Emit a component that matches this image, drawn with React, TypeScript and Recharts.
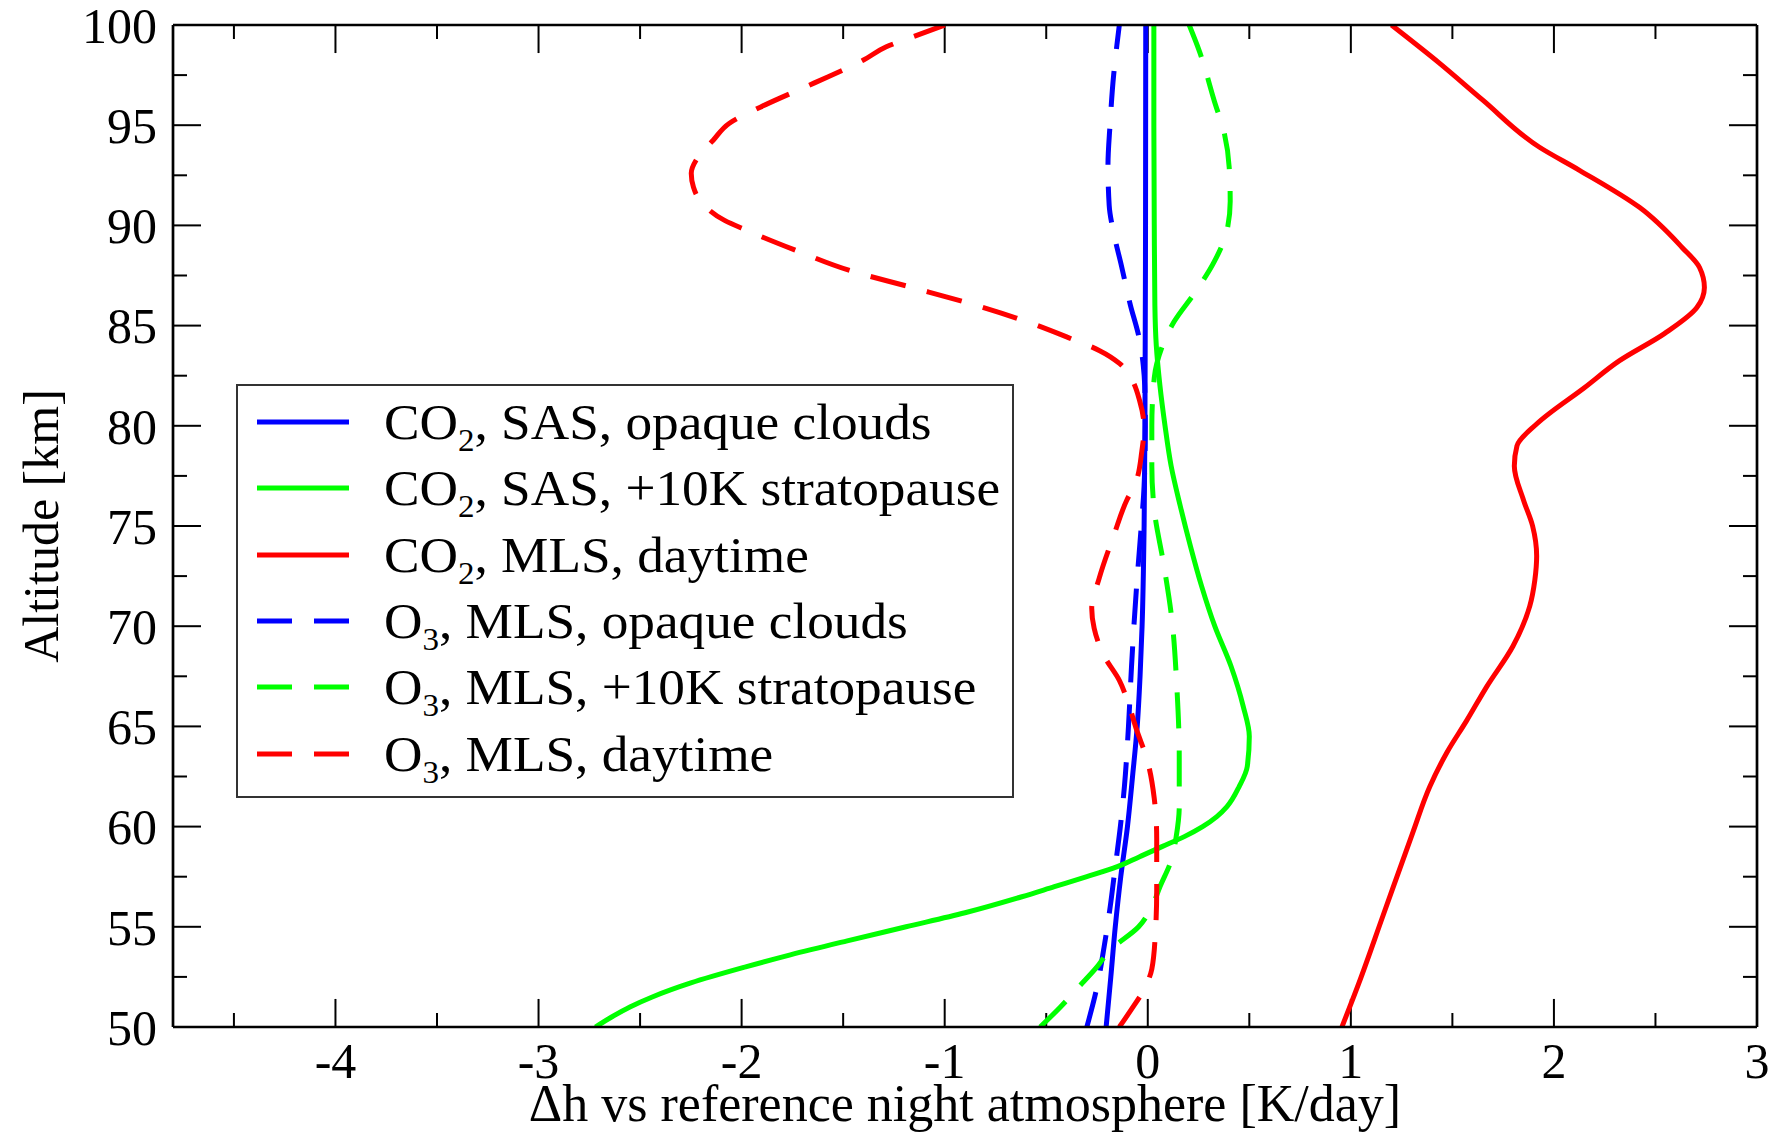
import { Legend, Line, LineChart, ReferenceLine, XAxis, YAxis } from "recharts";

const SERIF = '"Liberation Serif", "Times New Roman", serif';

// axis ticks
const xMajorTicks = [-4, -3, -2, -1, 0, 1, 2, 3];
const xMinorTicks = [-4.5, -3.5, -2.5, -1.5, -0.5, 0.5, 1.5, 2.5];
const altMajorTicks = [50, 55, 60, 65, 70, 75, 80, 85, 90, 95, 100];
const altMinorTicks = [52.5, 57.5, 62.5, 67.5, 72.5, 77.5, 82.5, 87.5, 92.5, 97.5];

// profiles: [altitude km, heating rate difference K/day]
const co2SasOpaque: [number, number][] = [
  [50, -0.205], [52.5, -0.182], [55, -0.16], [57.5, -0.133], [60, -0.1],
  [62.5, -0.075], [65, -0.052], [67.5, -0.038], [70, -0.028], [75, -0.018],
  [80, -0.014], [90, -0.011], [100, -0.01],
];

const co2SasStrat: [number, number][] = [
  [50, -2.72], [50.5, -2.64], [51, -2.55], [51.5, -2.44], [52.2, -2.25],
  [53, -1.98], [53.6, -1.76], [54.3, -1.48], [55, -1.19], [55.7, -0.9],
  [56.5, -0.62], [57, -0.46], [57.5, -0.3], [58, -0.15], [58.5, -0.04],
  [59, 0.07], [59.5, 0.18], [60, 0.27], [60.5, 0.34], [61, 0.39],
  [62, 0.45], [63, 0.49], [64.5, 0.5], [66, 0.47], [68, 0.41],
  [70, 0.33], [72, 0.265], [74, 0.21], [76, 0.16], [78, 0.115],
  [80, 0.085], [82, 0.06], [84, 0.042], [86, 0.035], [90, 0.032],
  [95, 0.03], [100, 0.03],
];

const co2MlsDay: [number, number][] = [
  [50, 0.956], [52.2, 1.04], [55.6, 1.16], [59.7, 1.305], [62, 1.389],
  [63.7, 1.473], [65.3, 1.571], [67, 1.67], [69, 1.798], [71, 1.881],
  [72.3, 1.906], [73.5, 1.915], [75, 1.895], [76.3, 1.85], [78, 1.805],
  [79, 1.818], [80.1, 1.916], [81.9, 2.15], [83.25, 2.323], [84.6, 2.544],
  [85.9, 2.704], [86.9, 2.741], [87.9, 2.717], [88.9, 2.631], [90.9, 2.421],
  [92.75, 2.126], [93.9, 1.929], [96.25, 1.65], [98.1, 1.436], [100, 1.2],
];

const o3MlsOpaque: [number, number][] = [
  [50, -0.3], [52, -0.25], [54, -0.215], [56, -0.185], [58, -0.16],
  [60, -0.135], [62, -0.115], [65, -0.095], [68, -0.08], [72, -0.055],
  [75, -0.032], [77, -0.018], [80, -0.012], [82, -0.015], [83, -0.022],
  [84.5, -0.045], [86, -0.085], [88, -0.13], [89.5, -0.165], [91, -0.19],
  [93, -0.196], [95, -0.186], [97.5, -0.168], [99, -0.152], [100, -0.14],
];

const o3MlsStrat: [number, number][] = [
  [50, -0.53], [51, -0.43], [52, -0.34], [53, -0.25], [53.8, -0.19],
  [55, -0.045], [56, 0.02], [57, 0.06], [58.3, 0.115], [59.5, 0.14],
  [61, 0.155], [63.5, 0.155], [67, 0.143], [70.4, 0.118], [73, 0.08],
  [75.8, 0.032], [78, 0.02], [80, 0.02], [82.4, 0.032], [83.9, 0.069],
  [85.2, 0.13], [86.6, 0.229], [88.2, 0.328], [89.7, 0.389], [91.2, 0.406],
  [92.9, 0.401], [94.6, 0.377], [96.2, 0.328], [98.7, 0.254], [100, 0.204],
];

const o3MlsDay: [number, number][] = [
  [50, -0.14], [50.9, -0.079], [51.9, -0.017], [52.9, 0.02], [54.6, 0.037],
  [56.8, 0.044], [59.4, 0.044], [61.4, 0.032], [63.4, -0.005], [64.8, -0.054],
  [66, -0.091], [67.3, -0.14], [68.5, -0.214], [69.9, -0.264], [70.9, -0.276],
  [72.4, -0.239], [74.6, -0.165], [76.3, -0.103], [77.1, -0.062], [78.75, -0.029],
  [79.9, -0.018], [81.25, -0.04], [82.4, -0.084], [83.1, -0.138], [83.75, -0.237],
  [84.4, -0.391], [85.25, -0.611], [86.1, -0.875], [86.9, -1.16], [87.75, -1.468],
  [88.75, -1.732], [89.75, -1.974], [90.25, -2.084], [91.1, -2.193], [91.9, -2.237],
  [92.6, -2.248], [93.4, -2.215], [94.25, -2.14], [95.1, -2.06], [95.9, -1.908],
  [97.1, -1.644], [98.25, -1.4], [98.9, -1.29], [99.4, -1.16], [100, -1.0],
];

type Series = {
  key: string;
  name: string;
  color: string;
  dashed: boolean;
  points: [number, number][];
};

const series: Series[] = [
  { key: "co2SasOpaque", name: "CO2, SAS, opaque clouds", color: "#0000ff", dashed: false, points: co2SasOpaque },
  { key: "co2SasStrat", name: "CO2, SAS, +10K stratopause", color: "#00ff00", dashed: false, points: co2SasStrat },
  { key: "co2MlsDay", name: "CO2, MLS, daytime", color: "#ff0000", dashed: false, points: co2MlsDay },
  { key: "o3MlsOpaque", name: "O3, MLS, opaque clouds", color: "#0000ff", dashed: true, points: o3MlsOpaque },
  { key: "o3MlsStrat", name: "O3, MLS, +10K stratopause", color: "#00ff00", dashed: true, points: o3MlsStrat },
  { key: "o3MlsDay", name: "O3, MLS, daytime", color: "#ff0000", dashed: true, points: o3MlsDay },
];

const DASH = "36 22";
const LINE_W = 5;
const X_DOMAIN: [number, number] = [-4.8, 3];
const ALT_DOMAIN: [number, number] = [50, 100];

// inward tick lengths in data units (~28 px major, ~14 px minor)
const X_TICK_MAJOR = 1.4; // km, for ticks on the bottom/top edges
const X_TICK_MINOR = 0.7;
const Y_TICK_MAJOR = 0.138; // K/day, for ticks on the left/right edges
const Y_TICK_MINOR = 0.069;

const frame = { stroke: "#000", strokeWidth: 2.7 };
const tickFont = { fontSize: 50, fill: "#000", fontFamily: SERIF };

// "CO2, ..." -> CO<sub>2</sub>, ...
function Formula({ name }: { name: string }) {
  const m = name.match(/^([A-Z]+)(\d)(.*)$/);
  if (!m) return <>{name}</>;
  return (
    <>
      {m[1]}
      <sub style={{ fontSize: "0.62em", verticalAlign: "-0.4em", lineHeight: 0 }}>{m[2]}</sub>
      {m[3]}
    </>
  );
}

function LegendBox() {
  return (
    <div
      style={{
        width: 778,
        height: 414,
        boxSizing: "border-box",
        border: "2px solid #333",
        background: "#fff",
        paddingTop: 3,
        fontFamily: SERIF,
        color: "#000",
      }}
    >
      {series.map((s) => (
        <div key={s.key} style={{ display: "flex", alignItems: "center", height: 66.3 }}>
          <svg width={92} height={10} style={{ marginLeft: 19, flex: "none" }}>
            <line
              x1={0}
              y1={5}
              x2={92}
              y2={5}
              stroke={s.color}
              strokeWidth={LINE_W}
              strokeDasharray={s.dashed ? "35 22" : undefined}
            />
          </svg>
          <span
            style={{
              marginLeft: 35,
              fontSize: 50,
              lineHeight: 1,
              whiteSpace: "nowrap",
              display: "inline-block",
              transform: "scaleX(1.065)",
              transformOrigin: "left center",
            }}
          >
            <Formula name={s.name} />
          </span>
        </div>
      ))}
    </div>
  );
}

function tickSegments() {
  const [x0, x1] = X_DOMAIN;
  const [a0, a1] = ALT_DOMAIN;
  const segs: { id: string; seg: [{ x: number; y: number }, { x: number; y: number }] }[] = [];
  const xTick = (v: number, len: number, id: string) => {
    segs.push({ id: `b${id}`, seg: [{ x: v, y: a0 }, { x: v, y: a0 + len }] });
    segs.push({ id: `t${id}`, seg: [{ x: v, y: a1 }, { x: v, y: a1 - len }] });
  };
  const yTick = (a: number, len: number, id: string) => {
    segs.push({ id: `l${id}`, seg: [{ x: x0, y: a }, { x: x0 + len, y: a }] });
    segs.push({ id: `r${id}`, seg: [{ x: x1, y: a }, { x: x1 - len, y: a }] });
  };
  xMajorTicks.forEach((v) => xTick(v, X_TICK_MAJOR, `M${v}`));
  xMinorTicks.forEach((v) => xTick(v, X_TICK_MINOR, `m${v}`));
  altMajorTicks.forEach((a) => yTick(a, Y_TICK_MAJOR, `M${a}`));
  altMinorTicks.forEach((a) => yTick(a, Y_TICK_MINOR, `m${a}`));
  return segs;
}

export default function App() {
  return (
    <div style={{ position: "absolute", left: 0, top: 0, width: 1783, height: 1133, background: "#fff" }}>
      <LineChart
        width={1783}
        height={1133}
        layout="vertical"
        margin={{ top: 24, right: 25, bottom: 0, left: 0 }}
        style={{ fontFamily: SERIF }}
      >
        <XAxis
          xAxisId="b"
          type="number"
          domain={X_DOMAIN}
          allowDataOverflow
          ticks={xMajorTicks}
          interval={0}
          height={106}
          tickSize={0}
          tickMargin={15}
          axisLine={frame}
          tickLine={false}
          tick={tickFont}
          label={{
            value: "Δh vs reference night atmosphere [K/day]",
            position: "center",
            dy: 23,
            fontSize: 52,
            fill: "#000",
            fontFamily: SERIF,
          }}
        />
        <XAxis
          xAxisId="t"
          type="number"
          orientation="top"
          domain={X_DOMAIN}
          allowDataOverflow
          ticks={xMajorTicks}
          interval={0}
          height={1}
          tick={false}
          tickLine={false}
          axisLine={frame}
        />
        <YAxis
          yAxisId="l"
          type="number"
          dataKey="alt"
          domain={ALT_DOMAIN}
          allowDataOverflow
          reversed
          ticks={altMajorTicks}
          interval={0}
          width={173}
          tickSize={0}
          tickMargin={16}
          axisLine={frame}
          tickLine={false}
          tick={tickFont}
          label={{
            value: "Altitude [km]",
            angle: -90,
            position: "center",
            dx: -46,
            fontSize: 50,
            fill: "#000",
            fontFamily: SERIF,
          }}
        />
        <YAxis
          yAxisId="r"
          type="number"
          orientation="right"
          domain={ALT_DOMAIN}
          allowDataOverflow
          reversed
          ticks={altMajorTicks}
          interval={0}
          width={1}
          tick={false}
          tickLine={false}
          axisLine={frame}
        />

        {tickSegments().map((t) => (
          <ReferenceLine
            key={t.id}
            xAxisId="b"
            yAxisId="l"
            segment={t.seg}
            stroke="#000"
            strokeWidth={2}
            ifOverflow="visible"
          />
        ))}

        {series.map((s) => (
          <Line
            key={s.key}
            xAxisId="b"
            yAxisId="l"
            name={s.name}
            data={s.points.map(([alt, dh]) => ({ alt, dh }))}
            dataKey="dh"
            type="monotone"
            stroke={s.color}
            strokeWidth={LINE_W}
            strokeDasharray={s.dashed ? DASH : undefined}
            dot={false}
            activeDot={false}
            isAnimationActive={false}
          />
        ))}

        <Legend
          layout="vertical"
          align="center"
          verticalAlign="middle"
          wrapperStyle={{ left: 236, top: 384, width: 778, height: 414 }}
          content={() => <LegendBox />}
        />
      </LineChart>
    </div>
  );
}
